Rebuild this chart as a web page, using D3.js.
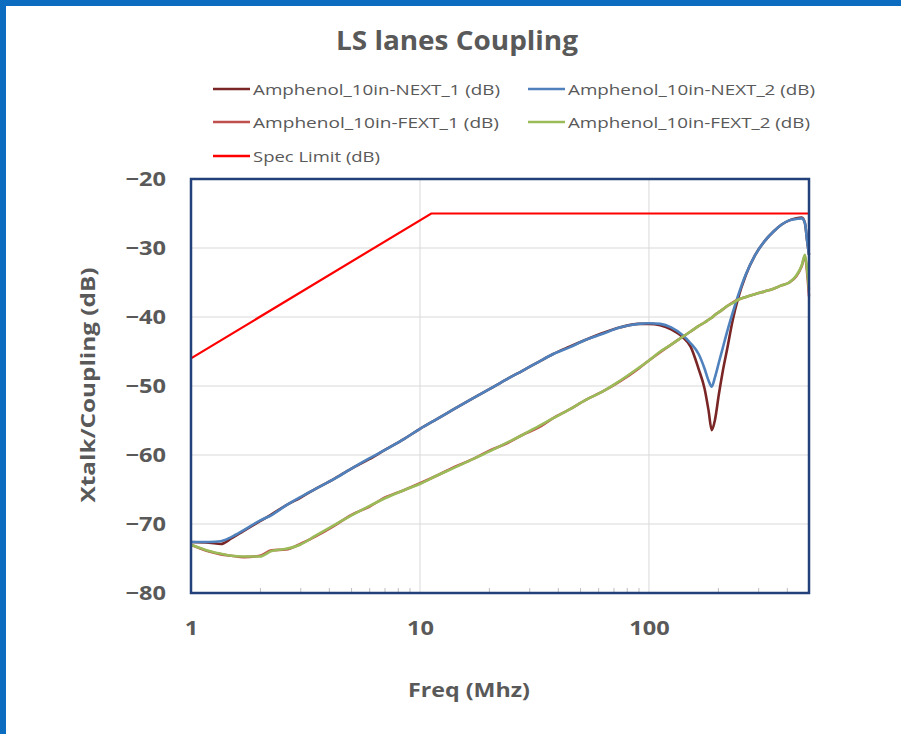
<!DOCTYPE html>
<html>
<head>
<meta charset="utf-8">
<script src="https://cdn.jsdelivr.net/npm/d3@7"></script>
<style>
  html, body { margin: 0; padding: 0; background: #ffffff; }
  svg { display: block; }
  text { font-family: "Open Sans", "Noto Sans", sans-serif; fill: #595959; }
</style>
</head>
<body>
<svg id="chart" width="901" height="734"></svg>
<script>
// Frequency sample points (MHz)
const freq = [
  1, 1.2, 1.35, 1.5, 1.7, 2, 2.25, 2.6, 3, 3.5,
  4.2, 5, 6, 7, 8.5, 10, 12, 14, 17, 20,
  24, 28, 33, 38, 45, 53, 62, 75, 90, 100,
  112, 125, 140, 152, 165, 175, 182, 188, 194, 202,
  210, 220, 232, 245, 265, 290, 320, 350, 380, 410,
  440, 465, 480, 490, 500
];

// Coupling in dB for each measured pair
const next1 = [
  -72.6, -72.7, -72.9, -72.1, -71.0, -69.6, -68.6, -67.3, -66.2, -64.9,
  -63.5, -62.0, -60.6, -59.3, -57.7, -56.2, -54.7, -53.4, -51.8, -50.5,
  -49.0, -47.8, -46.5, -45.4, -44.3, -43.3, -42.4, -41.5, -41.0, -41.0,
  -41.2, -41.8, -42.9, -44.3, -47.6, -50.4, -53.5, -56.4, -55.0, -51.2,
  -47.9, -44.5, -40.5, -37.3, -33.9, -31.1, -29.0, -27.6, -26.6, -26.0,
  -25.7, -25.6, -26.4, -28.8, -31.0
];
const next2 = [
  -72.6, -72.6, -72.5, -71.9, -70.9, -69.5, -68.7, -67.3, -66.1, -64.9,
  -63.5, -62.0, -60.5, -59.3, -57.7, -56.2, -54.7, -53.4, -51.8, -50.5,
  -49.0, -47.8, -46.5, -45.4, -44.4, -43.3, -42.5, -41.5, -41.0, -40.9,
  -41.0, -41.5, -42.6, -43.8, -45.4, -47.5, -49.2, -50.1, -48.8, -46.6,
  -44.5, -42.0, -39.4, -36.9, -33.8, -31.1, -29.0, -27.6, -26.6, -26.0,
  -25.8, -25.7, -26.4, -28.8, -31.0
];
const fext1 = [
  -73.0, -74.0, -74.4, -74.6, -74.8, -74.6, -73.8, -73.7, -72.9, -71.8,
  -70.3, -68.7, -67.5, -66.2, -65.1, -64.1, -62.9, -61.8, -60.6, -59.4,
  -58.3, -57.1, -56.0, -54.7, -53.4, -52.0, -50.9, -49.3, -47.5, -46.3,
  -45.1, -44.0, -42.9, -42.1, -41.3, -40.8, -40.4, -40.1, -39.7, -39.3,
  -38.9, -38.4, -37.9, -37.5, -37.1, -36.7, -36.3, -35.9, -35.4, -35.0,
  -34.1, -32.6, -31.2, -33.4, -37.0
];
const fext2 = [
  -73.0, -73.9, -74.3, -74.6, -74.7, -74.7, -73.9, -73.6, -73.0, -71.7,
  -70.2, -68.8, -67.4, -66.3, -65.1, -64.2, -62.9, -61.9, -60.6, -59.5,
  -58.2, -57.1, -55.8, -54.7, -53.4, -52.0, -50.9, -49.2, -47.4, -46.3,
  -45.0, -44.0, -42.9, -42.1, -41.3, -40.8, -40.4, -40.1, -39.7, -39.3,
  -38.9, -38.4, -38.0, -37.5, -37.1, -36.7, -36.3, -35.9, -35.4, -35.0,
  -34.0, -32.5, -31.0, -33.0, -36.0
];

// Spec limit mask
const specFreq = [1, 11.2, 500];
const specLimit = [-46, -25, -25];

const seriesNames = [
  "Amphenol_10in-NEXT_1 (dB)",
  "Amphenol_10in-NEXT_2 (dB)",
  "Amphenol_10in-FEXT_1 (dB)",
  "Amphenol_10in-FEXT_2 (dB)",
  "Spec Limit (dB)"
];
const xTickValues = [1, 10, 100];
const yTickValues = [-80, -70, -60, -50, -40, -30, -20];

const titleText = "LS lanes Coupling";
const xTitle = "Freq (Mhz)";
const yTitle = "Xtalk/Coupling (dB)";

// ---- drawing ----
const colors = ["#7a2626", "#4f81bd", "#c0504d", "#9bbb59", "#ff0000"];
const svg = d3.select("#chart");
const W = 901, H = 734;
const plot = { left: 191, right: 809, top: 179, bottom: 593 };

// outer frame
svg.append("rect").attr("x", 0).attr("y", 0).attr("width", W).attr("height", H).attr("fill", "#ffffff");
svg.append("rect").attr("x", 0).attr("y", 0).attr("width", 6).attr("height", H).attr("fill", "#0b6cc0");
svg.append("rect").attr("x", 0).attr("y", 0).attr("width", W).attr("height", 6).attr("fill", "#0b6cc0");

const x = d3.scaleLog().domain([1, 500]).range([plot.left, plot.right]);
const y = d3.scaleLinear().domain([-80, -20]).range([plot.bottom, plot.top]);

// gridlines
const grid = svg.append("g").attr("stroke", "#d9d9d9").attr("stroke-width", 1);
yTickValues.filter(v => v > -80 && v < -20).forEach(v => {
  grid.append("line").attr("x1", plot.left).attr("x2", plot.right)
    .attr("y1", y(v)).attr("y2", y(v));
});
xTickValues.filter(v => v > 1).forEach(v => {
  grid.append("line").attr("y1", plot.top).attr("y2", plot.bottom)
    .attr("x1", x(v)).attr("x2", x(v));
});

// minor ticks along the bottom edge, pointing inward
const minorTicks = [];
[1, 10, 100].forEach(dec => { for (let m = 2; m <= 9; m++) { const v = dec * m; if (v < 500) minorTicks.push(v); } });
const minorAxis = d3.axisBottom(x).tickValues(minorTicks).tickSize(-5).tickFormat("");
const gMinor = svg.append("g").attr("transform", `translate(0,${plot.bottom})`).call(minorAxis);
gMinor.select(".domain").remove();
gMinor.selectAll("line").attr("stroke", "#bfbfbf").attr("stroke-width", 1);

// series lines
const line = d3.line().x(d => x(d[0])).y(d => y(d[1])).curve(d3.curveMonotoneX);
const seriesData = [next1, next2, fext1, fext2];
const gLines = svg.append("g");
seriesData.forEach((vals, i) => {
  gLines.append("path")
    .datum(freq.map((f, k) => [f, vals[k]]))
    .attr("fill", "none")
    .attr("stroke", colors[i])
    .attr("stroke-width", 2.6)
    .attr("stroke-linejoin", "round")
    .attr("d", line);
});
gLines.append("path")
  .datum(specFreq.map((f, k) => [f, specLimit[k]]))
  .attr("fill", "none")
  .attr("stroke", colors[4])
  .attr("stroke-width", 2.2)
  .attr("d", d3.line().x(d => x(d[0])).y(d => y(d[1])));

// plot border
svg.append("rect")
  .attr("x", plot.left).attr("y", plot.top)
  .attr("width", plot.right - plot.left).attr("height", plot.bottom - plot.top)
  .attr("fill", "none").attr("stroke", "#22407a").attr("stroke-width", 2.5);

// axes labels
const yAxis = d3.axisLeft(y).tickValues(yTickValues).tickSize(0).tickPadding(25);
const gY = svg.append("g").attr("transform", `translate(${plot.left},0)`).call(yAxis);
gY.select(".domain").remove();
gY.selectAll("text")
  .attr("font-family", "Open Sans, sans-serif")
  .attr("font-size", 20).attr("font-weight", "bold").attr("fill", "#595959")
  .each(function() { const t = d3.select(this); t.attr("textLength", this.getComputedTextLength() * 1.18).attr("lengthAdjust", "spacingAndGlyphs"); });

const xAxis = d3.axisBottom(x).tickValues(xTickValues).tickSize(0).tickPadding(28).tickFormat(d3.format("d"));
const gX = svg.append("g").attr("transform", `translate(0,${plot.bottom})`).call(xAxis);
gX.select(".domain").remove();
gX.selectAll("text")
  .attr("font-family", "Open Sans, sans-serif")
  .attr("font-size", 20).attr("font-weight", "bold").attr("fill", "#595959")
  .each(function() { const t = d3.select(this); t.attr("textLength", this.getComputedTextLength() * 1.18).attr("lengthAdjust", "spacingAndGlyphs"); });

// title
svg.append("text")
  .attr("x", 457).attr("y", 50).attr("text-anchor", "middle")
  .attr("font-size", 27).attr("font-weight", "bold")
  .attr("textLength", 242).attr("lengthAdjust", "spacingAndGlyphs")
  .text(titleText);

// axis titles
svg.append("text")
  .attr("x", 469).attr("y", 697).attr("text-anchor", "middle")
  .attr("font-size", 20).attr("font-weight", "bold")
  .attr("textLength", 122).attr("lengthAdjust", "spacingAndGlyphs")
  .text(xTitle);
svg.append("text")
  .attr("transform", `translate(95,${(plot.top + plot.bottom) / 2 - 1}) rotate(-90)`)
  .attr("text-anchor", "middle")
  .attr("font-size", 20).attr("font-weight", "bold")
  .attr("textLength", 235).attr("lengthAdjust", "spacingAndGlyphs")
  .text(yTitle);

// legend
const legendPos = [
  { sx: 213, tx: 253, cy: 89, w: 247 },
  { sx: 528, tx: 568, cy: 89, w: 247 },
  { sx: 213, tx: 253, cy: 122, w: 246 },
  { sx: 528, tx: 568, cy: 122, w: 242 },
  { sx: 213, tx: 253, cy: 156, w: 127 }
];
const gLeg = svg.append("g");
seriesNames.forEach((name, i) => {
  const p = legendPos[i];
  gLeg.append("line").attr("x1", p.sx).attr("x2", p.sx + 37)
    .attr("y1", p.cy).attr("y2", p.cy)
    .attr("stroke", colors[i]).attr("stroke-width", 2.6);
  gLeg.append("text").attr("x", p.tx).attr("y", p.cy + 5.5)
    .attr("font-size", 15)
    .attr("textLength", p.w).attr("lengthAdjust", "spacingAndGlyphs")
    .text(name);
});
</script>
</body>
</html>
